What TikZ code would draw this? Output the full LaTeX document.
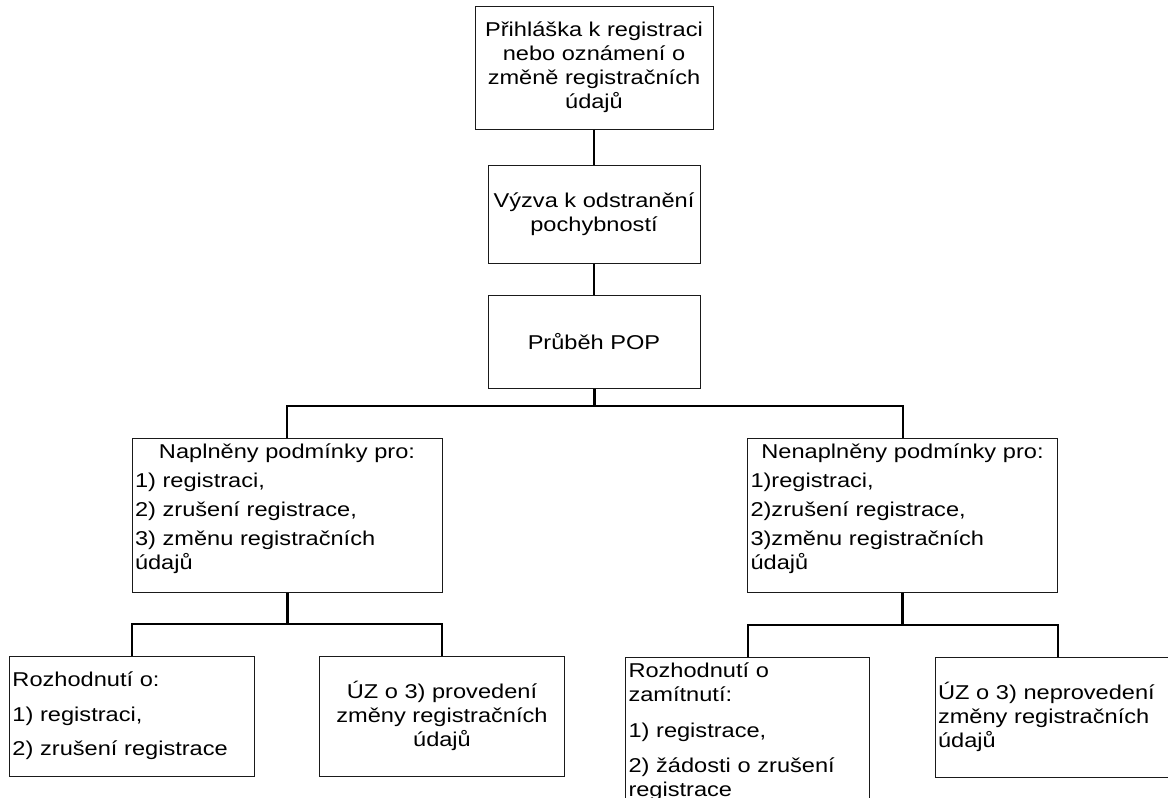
\documentclass[tikz,border=0pt]{standalone}
\usepackage{fontspec}
\setmainfont{Liberation Sans}[FakeStretch=1.18]
\usetikzlibrary{positioning}
\definecolor{ink}{HTML}{1A1A1A}
\tikzset{
  box/.style={rectangle, draw=ink, line width=1pt, fill=white, align=center,
    inner sep=3pt, font=\fontsize{20}{24}\selectfont},
  boxhead/.style={box, minimum width=238pt, minimum height=123pt},
  boxstep/.style={box, minimum width=212pt, minimum height=98pt},
  boxcond/.style={box, text width=304pt, align=left, text height=17pt, text depth=131pt},
  boxout/.style={box, minimum width=245pt, minimum height=120pt},
  boxoutl/.style={box, text width=239pt, align=left, minimum height=120pt},
  boxrej/.style={box, text width=238pt, align=left, text height=17pt, text depth=142pt},
  link/.style={line width=2pt, black},
  trunk/.style={line width=3pt, black},
}

\begin{document}
\begin{tikzpicture}
\useasboundingbox (0,0) rectangle (1168pt,-798pt);
\clip (0,0) rectangle (1168pt,-798pt);
\fill[white] (0,0) rectangle (1168pt,-798pt);

% main chain
\node[boxhead] (req) at (594pt,-67.5pt) {Přihláška k registraci\\nebo oznámení o\\změně registračních\\údajů};
\node[boxstep, below=35pt of req] (call) {Výzva k odstranění\\pochybností};
\node[boxstep, below=31pt of call, minimum height=93pt] (pop) {Průběh POP};

% conditions
\node[boxcond, below=49pt of pop, xshift=-307pt] (okcond) {\makebox[\linewidth]{Naplněny podmínky pro:}\\[5pt]
  1) registraci,\\[5pt]
  2) zrušení registrace,\\[5pt]
  3) změnu registračních\\
  údajů};
\node[boxcond, below=49pt of pop, xshift=308.5pt] (nokcond) {\makebox[\linewidth]{Nenaplněny podmínky pro:}\\[5pt]
  1)registraci,\\[5pt]
  2)zrušení registrace,\\[5pt]
  3)změnu registračních\\
  údajů};

% outcomes
\node[boxoutl, below=63pt of okcond, xshift=-155pt] (okdec) {Rozhodnutí o:\\[11pt]
  1) registraci,\\[10pt]
  2) zrušení registrace};
\node[boxout, below=63pt of okcond, xshift=155pt] (okuz) {ÚZ o 3) provedení\\změny registračních\\údajů};
\node[boxrej, below=64pt of nokcond, xshift=-155pt] (nokdec) {Rozhodnutí o\\
  zamítnutí:\\[12pt]
  1) registrace,\\[11pt]
  2) žádosti o zrušení\\
  registrace};
\node[boxoutl, below=64pt of nokcond, xshift=155pt] (nokuz) {ÚZ o 3) neprovedení\\změny registračních\\údajů};

\draw[link] (req) -- (call);
\draw[link] (call) -- (pop);
\draw[trunk] (pop.south) -- ++(0,-17pt) coordinate (bus);
\draw[link] (bus) -| (okcond.north);
\draw[link] (bus) -| (nokcond.north);
\draw[trunk] (okcond.south) -- ++(0,-31pt) coordinate (okbus);
\draw[link] (okbus) -| (okdec.north);
\draw[link] (okbus) -| (okuz.north);
\draw[trunk] (nokcond.south) -- ++(0,-32pt) coordinate (nokbus);
\draw[link] (nokbus) -| (nokdec.north);
\draw[link] (nokbus) -| (nokuz.north);
\end{tikzpicture}
\end{document}
